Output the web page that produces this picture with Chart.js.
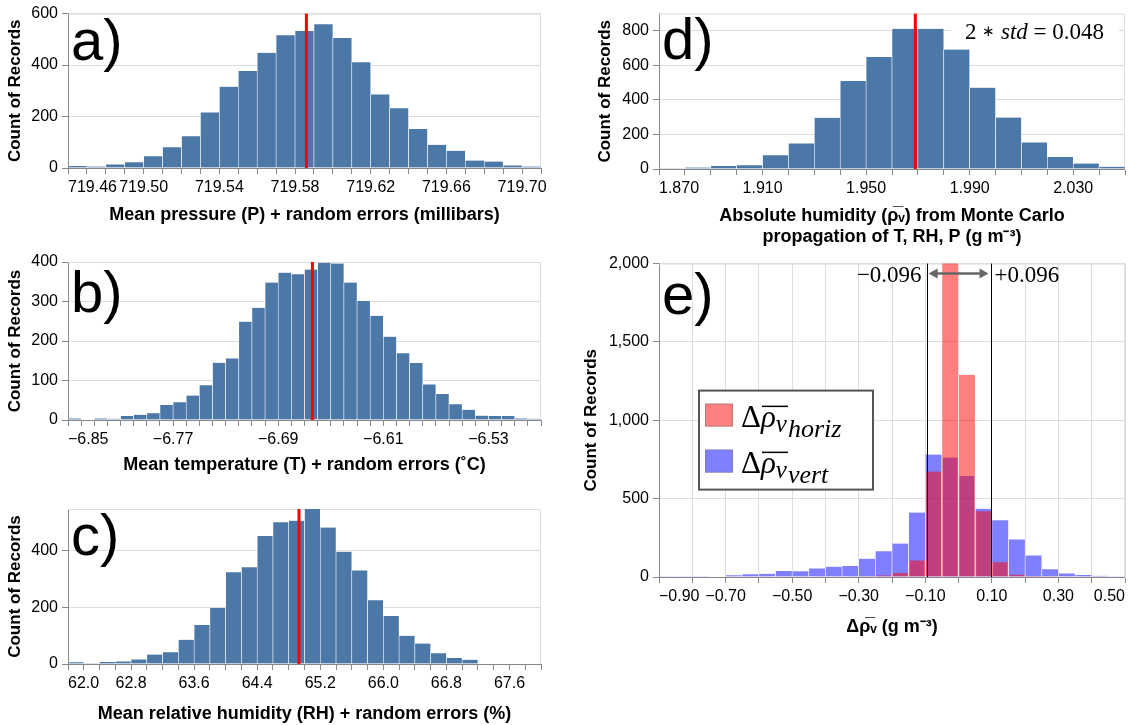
<!DOCTYPE html>
<html>
<head>
<meta charset="utf-8">
<script src="https://cdn.jsdelivr.net/npm/chart.js@4"></script>
<style>
  body { margin: 0; background: #fff; }
  #fig { position: relative; width: 1129px; height: 725px; overflow: hidden; background: #fff; }
  #fig canvas { position: absolute; }
</style>
</head>
<body>
<div id="fig">
  <canvas id="chartA" width="560" height="240" style="left:0;top:0"></canvas>
  <canvas id="chartB" width="560" height="240" style="left:0;top:240px"></canvas>
  <canvas id="chartC" width="560" height="245" style="left:0;top:480px"></canvas>
  <canvas id="chartD" width="569" height="250" style="left:560px;top:0"></canvas>
  <canvas id="chartE" width="569" height="400" style="left:560px;top:250px"></canvas>
</div>
<script>
// a) mean pressure + random errors
const pressureBins = [719.46, 719.47, 719.48, 719.49, 719.50, 719.51, 719.52, 719.53, 719.54, 719.55, 719.56, 719.57, 719.58,
  719.59, 719.60, 719.61, 719.62, 719.63, 719.64, 719.65, 719.66, 719.67, 719.68, 719.69, 719.70];
const pressureCounts = [8, 6, 14, 22, 46, 81, 123, 216, 316, 377, 448, 516, 532, 559, 505, 411, 286, 232, 152, 90, 67, 29, 25, 10, 6];
const pressureTicks = ['719.46', '719.50', '719.54', '719.58', '719.62', '719.66', '719.70'];
const pressureMean = 719.586;

// b) mean temperature + random errors
const tempBins = [-6.85, -6.84, -6.83, -6.82, -6.81, -6.80, -6.79, -6.78, -6.77, -6.76, -6.75, -6.74, -6.73, -6.72, -6.71, -6.70,
  -6.69, -6.68, -6.67, -6.66, -6.65, -6.64, -6.63, -6.62, -6.61, -6.60, -6.59, -6.58, -6.57, -6.56, -6.55, -6.54, -6.53, -6.52, -6.51, -6.50];
const tempCounts = [4, 1, 4, 3, 10, 13, 17, 38, 45, 62, 88, 145, 156, 249, 284, 348, 373, 369, 381, 398, 396, 348, 301, 264,
  211, 169, 144, 90, 66, 40, 26, 11, 10, 10, 4, 3];
const tempTicks = ['\u22126.85', '\u22126.77', '\u22126.69', '\u22126.61', '\u22126.53'];
const tempMean = -6.664;

// c) mean relative humidity + random errors
const rhBins = [62.0, 62.2, 62.4, 62.6, 62.8, 63.0, 63.2, 63.4, 63.6, 63.8, 64.0, 64.2, 64.4, 64.6, 64.8, 65.0, 65.2, 65.4,
  65.6, 65.8, 66.0, 66.2, 66.4, 66.6, 66.8, 67.0, 67.2, 67.4, 67.6, 67.8];
const rhCounts = [6, 3, 7, 9, 16, 33, 41, 85, 137, 197, 323, 340, 450, 498, 504, 545, 480, 395, 329, 224, 169, 99, 72, 38, 21, 15, 2, 2, 2, 2];
const rhTicks = ['62.0', '62.8', '63.6', '64.4', '65.2', '66.0', '66.8', '67.6'];
const rhMean = 64.93;

// d) absolute humidity from Monte Carlo propagation
const ahBins = [1.87, 1.88, 1.89, 1.90, 1.91, 1.92, 1.93, 1.94, 1.95, 1.96, 1.97, 1.98, 1.99, 2.00, 2.01, 2.02, 2.03, 2.04];
const ahCounts = [1, 8, 17, 21, 80, 148, 297, 509, 648, 812, 812, 692, 471, 298, 154, 70, 32, 13];
const ahTicks = ['1.870', '1.910', '1.950', '1.990', '2.030'];
const ahMean = 1.969;
const ahStdText = '0.048';

// e) horizontal vs vertical differences
const deltaBins = [-0.90, -0.85, -0.80, -0.75, -0.70, -0.65, -0.60, -0.55, -0.50, -0.45, -0.40, -0.35, -0.30, -0.25,
  -0.20, -0.15, -0.10, -0.05, 0.00, 0.05, 0.10, 0.15, 0.20, 0.25, 0.30, 0.35, 0.40, 0.45];
const horizCounts = [0, 0, 0, 0, 0, 0, 0, 0, 0, 0, 0, 0, 2, 10, 26, 106, 673, 2300, 1290, 419, 94, 15, 6, 4, 0, 0, 0, 0];
const vertCounts = [4, 2, 4, 3, 11, 17, 21, 38, 36, 55, 66, 70, 117, 164, 213, 411, 781, 762, 644, 436, 362, 240, 138, 49, 23, 13, 8, 4];
const deltaTicks = ['\u22120.90', '\u22120.70', '\u22120.50', '\u22120.30', '\u22120.10', '0.10', '0.30', '0.50'];
const deltaBound = 0.096;

const SANS = "'Liberation Sans', Arial, Helvetica, sans-serif";
const SERIF = "'Liberation Serif', 'Times New Roman', serif";
const BLUE = '#4c78a8';

Chart.defaults.font.family = SANS;
Chart.defaults.color = '#000';

// light frame on top/right of the plot area (left/bottom are the axes)
const framePlugin = {
  id: 'frame',
  beforeDatasetsDraw(chart) {
    const { ctx, chartArea: a } = chart;
    ctx.save();
    ctx.strokeStyle = '#ddd';
    ctx.lineWidth = 1;
    ctx.beginPath();
    ctx.moveTo(a.left, a.top + 0.5);
    ctx.lineTo(a.right - 0.5, a.top + 0.5);
    ctx.lineTo(a.right - 0.5, a.bottom);
    ctx.stroke();
    ctx.restore();
  }
};

function histChart(id, p) {
  const step = p.bins[1] - p.bins[0];
  const xMin = p.bins[0];
  const xMax = p.bins[p.bins.length - 1] + step;
  const n = Math.round((xMax - xMin) / p.tickStep);
  const edges = Array.from({ length: n + 1 }, (_, k) => xMin + k * p.tickStep);
  const fmt = v => v.toFixed(p.digits).replace('-', '\u2212');

  const plugins = [framePlugin, {
    id: 'panelMarks',
    afterDatasetsDraw(chart) {
      const { ctx, chartArea: a, scales } = chart;
      ctx.save();
      if (p.mean !== undefined) {
        const x = scales.x.getPixelForValue(p.mean);
        ctx.fillStyle = '#ff0000';
        ctx.fillRect(x - 1.5, a.top, 3, a.bottom - a.top);
      }
      ctx.fillStyle = '#000';
      ctx.font = `58px ${SANS}`;
      ctx.textAlign = 'left';
      ctx.textBaseline = 'alphabetic';
      ctx.fillText(p.label, a.left + 3, a.top + p.labelDy);
      ctx.restore();
    }
  }];
  if (p.extra) plugins.push(p.extra);

  return new Chart(document.getElementById(id), {
    type: 'bar',
    data: {
      datasets: p.series.map(s => ({
        label: s.label,
        data: p.bins.map((b, i) => ({ x: b + step / 2, y: s.counts[i] })),
        backgroundColor: s.color,
        borderColor: '#fff',
        borderWidth: { left: 0.6, right: 0.6, top: 0, bottom: 0 },
        barPercentage: 1,
        categoryPercentage: 1,
        grouped: false
      }))
    },
    options: {
      responsive: false,
      animation: false,
      events: [],
      layout: { padding: p.padding },
      plugins: { legend: { display: false }, tooltip: { enabled: false } },
      scales: {
        x: {
          type: 'linear',
          min: xMin,
          max: xMax,
          offset: false,
          afterBuildTicks: s => { s.ticks = edges.map(v => ({ value: v })); },
          afterFit: s => { s.height = p.xHeight; },
          grid: { offset: false, drawOnChartArea: !!p.xGrid, color: '#ddd', tickColor: '#888', tickLength: 6 },
          border: { color: '#888' },
          ticks: {
            autoSkip: false, minRotation: 0, maxRotation: 0, align: 'inner', padding: 4,
            font: { size: 16 },
            callback: v => { const s = fmt(v); return p.xLabels.includes(s) ? s : ''; }
          },
          title: {
            display: true, text: p.xTitle,
            font: { size: 18, weight: 'bold' },
            padding: { top: 0, bottom: p.xTitlePad }
          }
        },
        y: {
          min: 0,
          max: p.yMax,
          afterBuildTicks: s => { s.ticks = p.yTicks.map(v => ({ value: v })); },
          afterFit: s => { s.width = p.yWidth; },
          grid: { color: '#ddd', tickColor: '#888', tickLength: 6 },
          border: { color: '#888' },
          ticks: { padding: 4, font: { size: 16 }, callback: v => v.toLocaleString('en-US') },
          title: {
            display: true, text: 'Count of Records',
            font: { size: 17, weight: 'bold' },
            padding: { top: p.yTitlePad, bottom: 0 }
          }
        }
      }
    },
    plugins
  });
}

// "2 * std = 0.048" label with white backing box
const stdPlugin = {
  id: 'stdText',
  beforeDatasetsDraw(chart) {
    const { ctx, chartArea: a } = chart;
    ctx.save();
    ctx.fillStyle = '#fff';
    ctx.fillRect(a.right - 174, a.top + 6, 168, 24);
    ctx.restore();
  },
  afterDatasetsDraw(chart) {
    const { ctx, chartArea: a } = chart;
    // [text, font style, font size, baseline shift]
    const parts = [['2 ', '', 23, 0], ['\u2217', '', 15, -3], [' ', '', 23, 0], ['std', 'italic ', 23, 0], [' = ' + ahStdText, '', 23, 0]];
    ctx.save();
    ctx.fillStyle = '#000';
    ctx.textBaseline = 'alphabetic';
    ctx.textAlign = 'left';
    let total = 0;
    parts.forEach(([t, st, sz]) => { ctx.font = `${st}${sz}px ${SERIF}`; total += ctx.measureText(t).width; });
    let x = a.right - 21 - total;
    parts.forEach(([t, st, sz, dy]) => {
      ctx.font = `${st}${sz}px ${SERIF}`;
      ctx.fillText(t, x, a.top + 25 + dy);
      x += ctx.measureText(t).width;
    });
    ctx.restore();
  }
};

function drawDeltaRho(ctx, x, y, sub) {
  ctx.fillStyle = '#000';
  ctx.textAlign = 'left';
  ctx.textBaseline = 'alphabetic';
  ctx.font = `31px ${SERIF}`;
  ctx.fillText('\u0394', x, y);
  const cx = x + ctx.measureText('\u0394').width;
  ctx.font = `italic 31px ${SERIF}`;
  ctx.fillText('\u03C1', cx, y);
  const rhoW = ctx.measureText('\u03C1').width;
  ctx.font = `italic 25px ${SERIF}`;
  ctx.fillText('v', cx + rhoW, y + 5);
  const vW = ctx.measureText('v').width;
  ctx.fillRect(cx + 1, y - 21, rhoW + vW, 1.5);
  ctx.font = `italic 26px ${SERIF}`;
  ctx.fillText(sub, cx + rhoW + vW + 1, y + 10);
}

// bounds, arrow and legend for panel e
const boundsPlugin = {
  id: 'bounds',
  afterDatasetsDraw(chart) {
    const { ctx, chartArea: a, scales } = chart;
    const xl = scales.x.getPixelForValue(-deltaBound);
    const xr = scales.x.getPixelForValue(deltaBound);
    ctx.save();
    ctx.strokeStyle = '#000';
    ctx.lineWidth = 1;
    ctx.beginPath();
    ctx.moveTo(Math.round(xl) + 0.5, a.top);
    ctx.lineTo(Math.round(xl) + 0.5, a.bottom);
    ctx.moveTo(Math.round(xr) + 0.5, a.top);
    ctx.lineTo(Math.round(xr) + 0.5, a.bottom);
    ctx.stroke();

    // double arrow
    const ay = a.top + 10;
    ctx.strokeStyle = '#666';
    ctx.fillStyle = '#666';
    ctx.lineWidth = 2.5;
    ctx.beginPath();
    ctx.moveTo(xl + 8, ay);
    ctx.lineTo(xr - 8, ay);
    ctx.stroke();
    ctx.beginPath();
    ctx.moveTo(xl + 2, ay); ctx.lineTo(xl + 11, ay - 5); ctx.lineTo(xl + 11, ay + 5); ctx.closePath();
    ctx.moveTo(xr - 2, ay); ctx.lineTo(xr - 11, ay - 5); ctx.lineTo(xr - 11, ay + 5); ctx.closePath();
    ctx.fill();

    ctx.fillStyle = '#000';
    ctx.font = `23px ${SERIF}`;
    ctx.textBaseline = 'alphabetic';
    ctx.textAlign = 'right';
    ctx.fillText('\u2212' + deltaBound.toFixed(3), xl - 5, a.top + 18);
    ctx.textAlign = 'left';
    ctx.fillText('+' + deltaBound.toFixed(3), xr + 4, a.top + 18);

    // legend
    const lx = a.left + 40, ly = a.top + 127;
    ctx.fillStyle = '#fff';
    ctx.fillRect(lx, ly, 174, 99);
    ctx.strokeStyle = '#555';
    ctx.lineWidth = 2;
    ctx.strokeRect(lx, ly, 174, 99);
    const ds = chart.data.datasets;
    [[ds[0], 13, 'horiz'], [ds[1], 59, 'vert']].forEach(([d, dy, sub]) => {
      ctx.fillStyle = d.backgroundColor;
      ctx.fillRect(lx + 6, ly + dy, 28, 23);
      ctx.strokeStyle = 'rgba(120,120,120,0.5)';
      ctx.lineWidth = 1;
      ctx.strokeRect(lx + 6.5, ly + dy + 0.5, 27, 22);
      drawDeltaRho(ctx, lx + 42, ly + dy + 23, sub);
    });
    ctx.restore();
  }
};

histChart('chartA', {
  bins: pressureBins, series: [{ label: 'Count', counts: pressureCounts, color: BLUE }],
  tickStep: 0.01, digits: 2, xLabels: pressureTicks, yTicks: [0, 200, 400, 600], yMax: 600,
  mean: pressureMean, xTitle: 'Mean pressure (P) + random errors (millibars)',
  padding: { left: 0, top: 12, right: 19, bottom: 0 }, yWidth: 68, xHeight: 72, xTitlePad: 14, yTitlePad: 5,
  label: 'a)', labelDy: 46
});

histChart('chartB', {
  bins: tempBins, series: [{ label: 'Count', counts: tempCounts, color: BLUE }],
  tickStep: 0.01, digits: 2, xLabels: tempTicks, yTicks: [0, 100, 200, 300, 400], yMax: 400,
  mean: tempMean, xTitle: 'Mean temperature (T) + random errors (\u02DAC)',
  padding: { left: 0, top: 22, right: 19, bottom: 0 }, yWidth: 68, xHeight: 60, xTitlePad: 4, yTitlePad: 5,
  label: 'b)', labelDy: 50
});

histChart('chartC', {
  bins: rhBins, series: [{ label: 'Count', counts: rhCounts, color: BLUE }],
  tickStep: 0.2, digits: 1, xLabels: rhTicks, yTicks: [0, 200, 400], yMax: 545,
  mean: rhMean, xTitle: 'Mean relative humidity (RH) + random errors (%)',
  padding: { left: 0, top: 29, right: 19, bottom: 0 }, yWidth: 68, xHeight: 61, xTitlePad: 0, yTitlePad: 5,
  label: 'c)', labelDy: 46
});

histChart('chartD', {
  bins: ahBins, series: [{ label: 'Count', counts: ahCounts, color: BLUE }],
  tickStep: 0.01, digits: 3, xLabels: ahTicks, yTicks: [0, 200, 400, 600, 800], yMax: 900,
  mean: ahMean,
  xTitle: ['Absolute humidity (\u03C1\u0305\u1D65) from Monte Carlo', 'propagation of T, RH, P (g m\u207B\u00B3)'],
  padding: { left: 0, top: 12, right: 1, bottom: 0 }, yWidth: 99, xHeight: 81, xTitlePad: 2, yTitlePad: 35,
  label: 'd)', labelDy: 45, extra: stdPlugin
});

histChart('chartE', {
  bins: deltaBins,
  series: [
    { label: 'horiz', counts: horizCounts, color: 'rgba(255,0,0,0.5)' },
    { label: 'vert', counts: vertCounts, color: 'rgba(0,0,255,0.5)' }
  ],
  tickStep: 0.1, digits: 2, xLabels: deltaTicks, yTicks: [0, 500, 1000, 1500, 2000], yMax: 2000, xGrid: true,
  xTitle: '\u0394\u03C1\u0305\u1D65 (g m\u207B\u00B3)',
  padding: { left: 0, top: 12, right: 1, bottom: 0 }, yWidth: 99, xHeight: 73, xTitlePad: 12, yTitlePad: 21,
  label: 'e)', labelDy: 50, extra: boundsPlugin
});
</script>
</body>
</html>
